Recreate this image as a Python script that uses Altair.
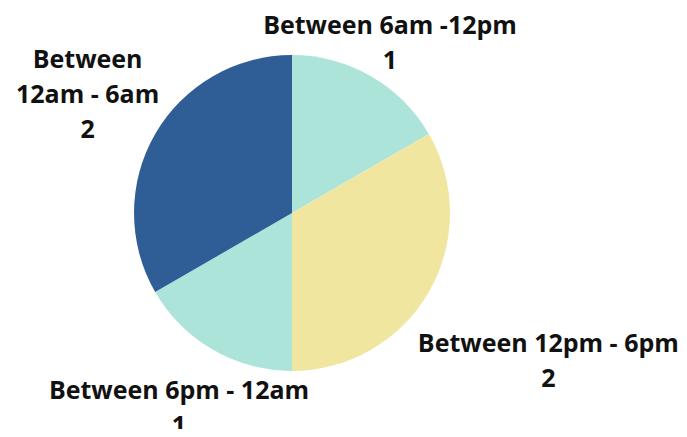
import altair as alt
import pandas as pd

categories = ["Between 6am -12pm", "Between 12pm - 6pm", "Between 6pm - 12am", "Between\n12am - 6am"]
values = [1, 2, 1, 2]
colors = ["#ADE4D9", "#F0E6A0", "#ADE4D9", "#2F5E97"]

df = pd.DataFrame({"category": categories, "value": values, "order": list(range(len(categories))), "color": colors})

base = alt.Chart(df).encode(
    theta=alt.Theta("value:Q", stack=True),
    order=alt.Order("order:Q"),
)

pie = base.mark_arc(radius=158, stroke=None).encode(
    x=alt.value(284), y=alt.value(205),
    color=alt.Color("color:N", scale=None),
)

LINE_H = 35
# (label radius, number of lines) per slice
label_spec = {0: (196, 2), 1: (296, 2), 2: (226, 2), 3: (236, 3)}

layers = [pie]
for i, (r, n) in label_spec.items():
    t = base.mark_text(
        radius=r, font="Open Sans", fontWeight="bold", fontSize=25,
        lineHeight=LINE_H, color="#111111", align="center", baseline="middle",
        dy=-(n - 1) * LINE_H / 2,
    ).encode(
        x=alt.value(284), y=alt.value(205),
        text="label:N",
        opacity=alt.condition(f"datum.order == {i}", alt.value(1), alt.value(0)),
    ).transform_calculate(
        label="split(datum.category + '\\n' + datum.value, '\\n')"
    )
    layers.append(t)

chart = alt.layer(*layers).properties(
    width=671, height=421, autosize="none", padding=0
).configure_view(stroke=None)

chart.save("out.html", embed_options={"renderer": "svg", "actions": False})
